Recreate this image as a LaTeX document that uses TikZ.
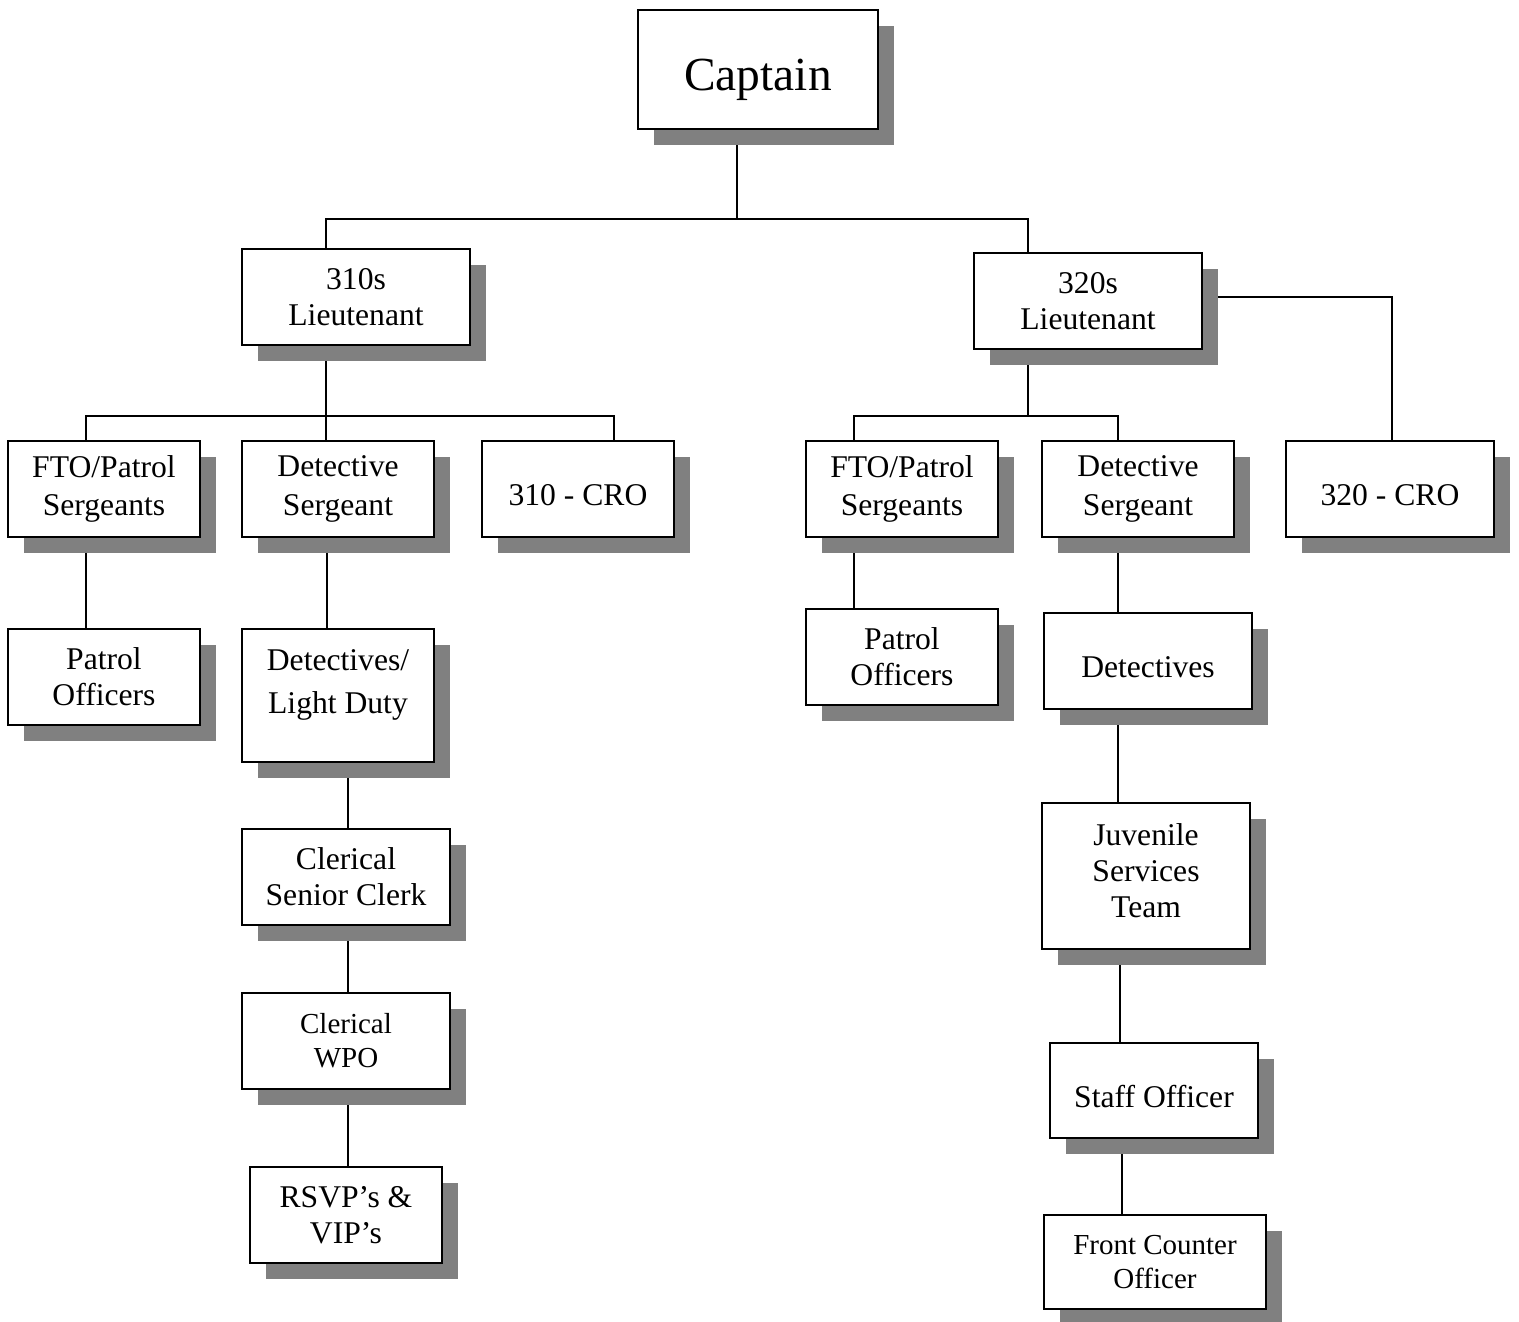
\documentclass[tikz,border=0pt]{standalone}
\usepackage{fontspec}
\setmainfont{Liberation Serif}
\usepackage{tikz}
\usetikzlibrary{shadows,backgrounds}
\definecolor{shadowGray}{RGB}{128,128,128}
\tikzstyle{unit}=[draw, fill=white, line width=1.1pt, inner sep=0pt, align=center,
  minimum width=3.84cm, minimum height=1.92cm, font=\fontsize{18}{20.5}\selectfont,
  drop shadow={shadow xshift=0.32cm, shadow yshift=-0.32cm, fill=shadowGray, opacity=1}]
\tikzstyle{link}=[line width=1.1pt]
\newcommand{\lowtext}[1]{\raisebox{-0.12cm}[\height][\depth]{#1}}

\begin{document}
\begin{tikzpicture}[x=0.02cm, y=-0.02cm]
        \useasboundingbox (0,0) rectangle (1519,1322);
        % top
        \node[unit, minimum width=4.8cm, minimum height=2.38cm, font=\fontsize{27}{32}\selectfont]
          (cap) at (758,69.5) {\raisebox{-0.2cm}[\height][\depth]{Captain}};
        \node[unit, minimum width=4.56cm] (l310) at (356,297) {310s\\Lieutenant};
        \node[unit, minimum width=4.56cm] (l320) at (1088,301) {320s\\Lieutenant};
        % 310s side
        \node[unit, font=\fontsize{18}{22}\selectfont] (fto1) at (104,489) {FTO/Patrol\\Sergeants};
        \node[unit, font=\fontsize{18}{22}\selectfont] (dsgt1) at (338,489) {Detective\\Sergeant};
        \node[unit] (cro310) at (578,489) {\lowtext{310 - CRO}};
        \node[unit] (pat1) at (104,677) {Patrol\\Officers};
        \node[unit, minimum height=2.66cm, font=\fontsize{18}{24}\selectfont]
          (det1) at (338,695.5) {Detectives/\\Light Duty\\[-8pt]\mbox{}};
        \node[unit, minimum width=4.16cm] (clk1) at (346,877) {Clerical\\Senior Clerk};
        \node[unit, minimum width=4.16cm, font=\fontsize{16.5}{19.3}\selectfont]
          (wpo) at (346,1041) {Clerical\\WPO};
        \node[unit] (rsvp) at (346,1215) {RSVP’s \&\\VIP’s};
        % 320s side
        \node[unit, font=\fontsize{18}{22}\selectfont] (fto2) at (902,489) {FTO/Patrol\\Sergeants};
        \node[unit, font=\fontsize{18}{22}\selectfont] (dsgt2) at (1138,489) {Detective\\Sergeant};
        \node[unit, minimum width=4.16cm] (cro320) at (1390,489) {\lowtext{320 - CRO}};
        \node[unit] (pat2) at (902,657) {Patrol\\Officers};
        \node[unit, minimum width=4.16cm] (det2) at (1148,661) {\lowtext{Detectives}};
        \node[unit, minimum width=4.16cm, minimum height=2.92cm]
          (juv) at (1146,876) {Juvenile\\Services\\Team\\[-14pt]\mbox{}};
        \node[unit, minimum width=4.16cm, minimum height=1.9cm] (staff) at (1154,1090.5) {\lowtext{Staff Officer}};
        \node[unit, minimum width=4.44cm, minimum height=1.88cm, font=\fontsize{16.5}{19.3}\selectfont]
          (front) at (1155,1262) {Front Counter\\Officer};
        % junctions
        \coordinate (busA) at (737,219);
        \coordinate (busB) at (326,416);
        \coordinate (busC) at (1028,416);
        \coordinate (turnD) at (1392,297);
        % connectors
        \begin{scope}[on background layer]
          \draw[link] (cap.south -| busA) -- (busA);
          \draw[link] (l310.north -| 326,0) |- (busA) -| (l320.north -| 1028,0);
          \draw[link] (l310.south -| busB) -- (busB);
          \draw[link] (fto1.north -| 86,0) |- (busB) -| (cro310.north -| 614,0);
          \draw[link] (dsgt1.north -| busB) -- (busB);
          \draw[link] (l320.south -| busC) -- (busC);
          \draw[link] (fto2.north -| 854,0) |- (busC) -| (dsgt2.north -| 1118,0);
          \draw[link] (l320.east |- turnD) -- (turnD) -- (cro320.north -| turnD);
          \draw[link] (fto1.south -| 86,0) -- (pat1.north -| 86,0);
          \draw[link] (dsgt1.south -| 327,0) -- (det1.north -| 327,0);
          \draw[link] (det1.south -| 348,0) -- (clk1.north -| 348,0);
          \draw[link] (clk1.south -| 348,0) -- (wpo.north -| 348,0);
          \draw[link] (wpo.south -| 348,0) -- (rsvp.north -| 348,0);
          \draw[link] (fto2.south -| 854,0) -- (pat2.north -| 854,0);
          \draw[link] (dsgt2.south -| 1118,0) -- (det2.north -| 1118,0);
          \draw[link] (det2.south -| 1118,0) -- (juv.north -| 1118,0);
          \draw[link] (juv.south -| 1120,0) -- (staff.north -| 1120,0);
          \draw[link] (staff.south -| 1122,0) -- (front.north -| 1122,0);
        \end{scope}
      \end{tikzpicture}
\end{document}
